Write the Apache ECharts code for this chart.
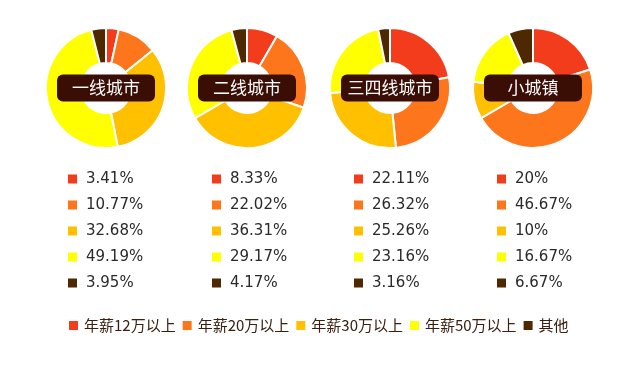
<!DOCTYPE html>
<html><head><meta charset="utf-8">
<script src="https://cdn.jsdelivr.net/npm/echarts@6/dist/echarts.min.js"></script>
<style>html,body{margin:0;padding:0;background:#fff}#c{width:640px;height:374px}</style>
</head><body><div id="c"></div>
<script>
const categories = ['年薪12万以上','年薪20万以上','年薪30万以上','年薪50万以上','其他'];
const groups = ['一线城市','二线城市','三四线城市','小城镇'];
const tier1 = [3.41, 10.77, 32.68, 49.19, 3.95];
const tier2 = [8.33, 22.02, 36.31, 29.17, 4.17];
const tier34 = [22.11, 26.32, 25.26, 23.16, 3.16];
const town = [20, 46.67, 10, 16.67, 6.67];
const seriesValues = [tier1, tier2, tier34, town];
const colors = ['#f33c1c','#fd761c','#ffc000','#ffff00','#4d2800'];

const centersX = [106, 247, 390, 533];
const centerY = 88;
const legendX = [61, 205, 347, 490];

const chart = echarts.init(document.getElementById('c'), null, {renderer:'canvas'});
const font = '"Noto Sans CJK SC", "Noto Sans", sans-serif';

const series = seriesValues.map((vals, i) => ({
  type: 'pie',
  name: groups[i],
  center: [centersX[i], centerY],
  radius: [25, 60],
  startAngle: 90,
  clockwise: true,
  silent: true,
  z: 1,
  label: {show: false},
  labelLine: {show: false},
  itemStyle: {borderColor: '#fff', borderWidth: 2},
  data: vals.map((v, k) => ({name: categories[k], value: v}))
}));

const legends = seriesValues.map((vals, i) => ({
  orient: 'vertical',
  left: legendX[i],
  top: 166,
  icon: 'rect',
  itemWidth: 11,
  itemHeight: 11,
  itemGap: 10,
  selectedMode: false,
  data: categories,
  formatter: name => vals[categories.indexOf(name)] + '%',
  textStyle: {fontSize: 15, color: '#2a2a2a', fontFamily: '"DejaVu Sans", sans-serif', padding: [0,0,0,3], lineHeight: 16}
}));
legends.push({
  orient: 'horizontal',
  left: 62,
  top: 313,
  icon: 'rect',
  itemWidth: 11,
  itemHeight: 11,
  itemGap: 5,
  selectedMode: false,
  data: categories,
  textStyle: {fontSize: 15, color: '#3a2010', fontFamily: font, padding: [0,0,0,0]}
});

const graphics = groups.map((g, i) => ({
  type: 'group',
  x: centersX[i],
  y: centerY,
  z: 100,
  children: [
    {type: 'rect', z: 100, shape: {x: -49, y: -13.5, width: 98, height: 27, r: 6}, style: {fill: '#3a0d05'}},
    {type: 'text', z: 101, x: 0, y: 0, style: {text: g, fill: '#fff', font: '17px ' + font, align: 'center', verticalAlign: 'middle'}}
  ]
}));

chart.setOption({
  animation: false,
  color: colors,
  legend: legends,
  series: series,
  graphic: graphics
});
</script></body></html>
